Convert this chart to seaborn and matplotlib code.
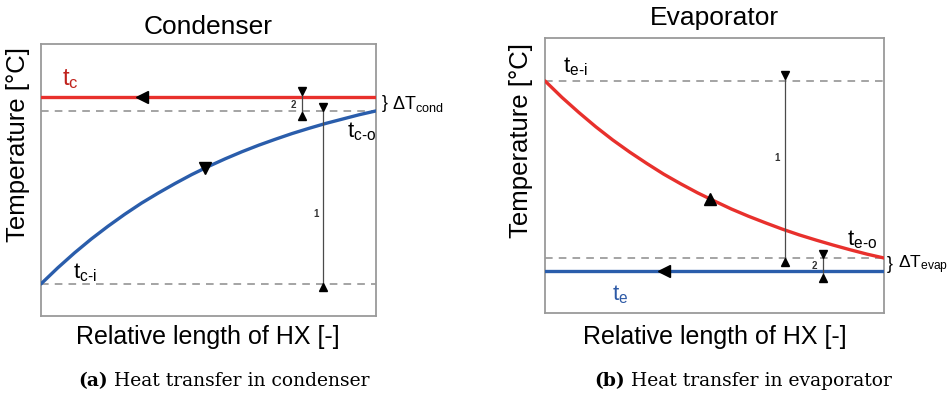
import numpy as np
import pandas as pd
import matplotlib
matplotlib.use("Agg")
import matplotlib.pyplot as plt
import seaborn as sns

# ---------------- data ----------------
hx_length = [0.00, 0.05, 0.10, 0.15, 0.20, 0.25, 0.30, 0.35, 0.40, 0.45, 0.50,
             0.55, 0.60, 0.65, 0.70, 0.75, 0.80, 0.85, 0.90, 0.95, 1.00]
# condenser: cold fluid heated from t_c-i to t_c-o, condensing at t_c
cond_cold = [11.8, 17.7, 23.2, 28.3, 33.0, 37.4, 41.5, 45.2, 48.7, 52.0, 55.0,
             57.8, 60.4, 62.8, 65.0, 67.1, 69.0, 70.8, 72.4, 74.0, 75.4]
cond_tc = 80.6
cond_levels = [75.4, 11.8]          # dashed guide lines (t_c-o, t_c-i)
# evaporator: hot fluid cooled from t_e-i to t_e-o, evaporating at t_e
evap_hot = [84.4, 78.4, 72.9, 67.7, 62.9, 58.5, 54.4, 50.5, 47.0, 43.7, 40.7,
            37.8, 35.2, 32.8, 30.5, 28.4, 26.5, 24.7, 23.0, 21.4, 20.0]
evap_te = 15.3
evap_levels = [84.4, 20.0]          # dashed guide lines (t_e-i, t_e-o)

# dimension bars: x, top, bottom, label, label x, label y
cond_dims = [(0.842, 76.8, 10.7, "1", 0.821, 37.5),
             (0.779, 82.9, 73.7, "2", 0.752, 77.6)]
evap_dims = [(0.708, 86.4, 18.5, "1", 0.684, 56.4),
             (0.820, 21.5, 12.9, "2", 0.796, 17.1)]

# ---------------- style ----------------
sns.set_theme(style="white")
plt.rcParams["font.family"] = ["Liberation Sans", "DejaVu Sans"]
plt.rcParams["text.color"] = "black"
plt.rcParams["mathtext.fontset"] = "custom"
plt.rcParams["mathtext.rm"] = "Liberation Sans"
plt.rcParams["mathtext.it"] = "Liberation Sans:italic"
plt.rcParams["mathtext.bf"] = "Liberation Sans:bold"

RED = "#e8302c"
RED_TXT = "#c0221c"
BLUE = "#2a5dab"
BLUE_TXT = "#2e5aa6"
GRID = "#8c8c8c"
SPINE = "#9a9a9a"

W, H = 950, 398
fig = plt.figure(figsize=(W / 100, H / 100), dpi=100)


def px_axes(x0, y0, x1, y1):
    return fig.add_axes([x0 / W, 1 - y1 / H, (x1 - x0) / W, (y1 - y0) / H])


axL = px_axes(41, 44, 376, 316)
axR = px_axes(545, 38, 884, 313)

for ax in (axL, axR):
    ax.set_xlim(0, 1)
    ax.set_ylim(0, 100)
    ax.set_xticks([])
    ax.set_yticks([])
    for s in ax.spines.values():
        s.set_color(SPINE)
        s.set_linewidth(1.3)
    ax.set_xlabel("")
    ax.set_ylabel("")


def dim(ax, x, ytop, ybot, label, lx, ly):
    ax.plot([x, x], [ytop, ybot], color="#4a4a4a", lw=0.9, zorder=4)
    ax.plot([x], [ytop], marker="v", color="black", ms=5.5, zorder=5)
    ax.plot([x], [ybot], marker="^", color="black", ms=5.5, zorder=5)
    ax.text(lx, ly, label, fontsize=7, fontweight="bold", color="#333333",
            ha="center", va="center")


# ---------------- condenser ----------------
for lv in cond_levels:
    axL.axhline(lv, color=GRID, lw=1.1, ls=(0, (5, 4)), zorder=1)
sns.lineplot(x=[0, 1], y=[cond_tc, cond_tc], ax=axL, color=RED, lw=2.4, zorder=3)
sns.lineplot(x=hx_length, y=cond_cold, ax=axL, color=BLUE, lw=2.4, zorder=3)
axL.plot([0.30], [cond_tc], marker="<", color="black", ms=8, zorder=6)
axL.plot([0.49], [np.interp(0.49, hx_length, cond_cold)], marker="v",
         color="black", ms=8, zorder=6)
for d in cond_dims:
    dim(axL, *d)
axL.text(0.063, 87.1, r"t$_{\mathregular{c}}$", color=RED_TXT, fontsize=17,
         ha="left", va="center")
axL.text(0.096, 15.8, r"t$_{\text{c-i}}$", color="black", fontsize=16,
         ha="left", va="center")
axL.text(0.913, 67.6, r"t$_{\text{c-o}}$", color="black", fontsize=16,
         ha="left", va="center")
axL.text(1.027, 78.0, "}", fontsize=13, ha="center", va="center", clip_on=False)
axL.text(1.048, 78.0, r"ΔT$_{\mathregular{cond}}$", fontsize=13, ha="left",
         va="center", clip_on=False)

# ---------------- evaporator ----------------
for lv in evap_levels:
    axR.axhline(lv, color=GRID, lw=1.1, ls=(0, (5, 4)), zorder=1)
sns.lineplot(x=[0, 1], y=[evap_te, evap_te], ax=axR, color=BLUE, lw=2.4, zorder=3)
sns.lineplot(x=hx_length, y=evap_hot, ax=axR, color=RED, lw=2.4, zorder=3)
axR.plot([0.35], [evap_te], marker="<", color="black", ms=8, zorder=6)
axR.plot([0.487], [np.interp(0.487, hx_length, evap_hot)], marker="^",
         color="black", ms=8, zorder=6)
for d in evap_dims:
    dim(axR, *d)
axR.text(0.053, 89.5, r"t$_{\text{e-i}}$", color="black", fontsize=16,
         ha="left", va="center")
axR.text(0.891, 26.5, r"t$_{\text{e-o}}$", color="black", fontsize=16,
         ha="left", va="center")
axR.text(0.198, 6.5, r"t$_{\mathregular{e}}$", color=BLUE_TXT, fontsize=16,
         ha="left", va="center")
axR.text(1.018, 17.6, "}", fontsize=13, ha="center", va="center", clip_on=False)
axR.text(1.042, 17.6, r"ΔT$_{\mathregular{evap}}$", fontsize=12.5, ha="left",
         va="center", clip_on=False)

# ---------------- titles / axis labels ----------------
fig.text(208 / W, 1 - 27 / H, "Condenser", fontsize=19, ha="center", va="center")
fig.text(714 / W, 1 - 18 / H, "Evaporator", fontsize=19, ha="center", va="center")
fig.text(208 / W, 1 - 337 / H, "Relative length of HX [-]", fontsize=18,
         ha="center", va="center")
fig.text(715 / W, 1 - 337 / H, "Relative length of HX [-]", fontsize=18,
         ha="center", va="center")
fig.text(18 / W, 1 - 145 / H, "Temperature [°C]", fontsize=18.5, rotation=90,
         ha="center", va="center")
fig.text(521 / W, 1 - 140 / H, "Temperature [°C]", fontsize=18.5, rotation=90,
         ha="center", va="center")

# ---------------- captions ----------------
renderer = fig.canvas.get_renderer()
for x0, tag, rest in [(78, "(a)", "Heat transfer in condenser"),
                      (594, "(b)", "Heat transfer in evaporator")]:
    t = fig.text(x0 / W, 1 - 381 / H, tag, fontsize=13.5, fontweight="bold",
                 family="DejaVu Serif", ha="left", va="center")
    bb = t.get_window_extent(renderer)
    fig.text((bb.x1 + 6) / W, 1 - 381 / H, rest, fontsize=13.5,
             family="DejaVu Serif", ha="left", va="center")

fig.savefig("out.png", dpi=100)
